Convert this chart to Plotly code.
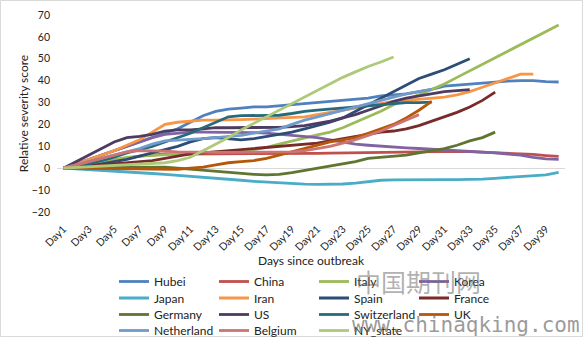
import plotly.graph_objects as go

days = ["Day%d" % i for i in range(1, 41)]
tick_days = ["Day%d" % i for i in range(1, 41, 2)]

series_names = ["Hubei", "China", "Italy", "Korea", "Japan", "Iran", "Spain", "France",
                "Germany", "US", "Switzerland", "UK", "Netherland", "Belgium", "NY_state"]

hubei = [0, 2, 4, 6, 8, 10, 12, 14, 16, 18, 21, 24, 26, 27, 27.5, 28, 28, 28.5, 29, 29.5,
         30, 30.5, 31, 31.5, 32, 33, 33.5, 34, 35, 36, 37.5, 38, 38.5, 39, 39.5, 39.8, 40, 40, 39.6, 39.4]
china = [0, 1, 2, 3, 3.5, 4.5, 5.5, 6, 6.5, 6.5, 6.5, 6.5, 6.5, 6.5, 6.5, 6.5, 6.5, 6.5, 6.6, 6.7,
         6.8, 6.9, 7, 7, 7.1, 7.2, 7.3, 7.4, 7.5, 7.6, 7.7, 7.7, 7.6, 7.4, 7.2, 7, 6.8, 6.3, 5.8, 5.4]
italy = [0, 1, 2, 3, 4, 5, 5.5, 5.8, 6, 6.2, 6.5, 7, 7.2, 7.5, 8, 8.5, 9.5, 11, 12.5, 14,
         15.2, 16.5, 18.5, 21, 23.5, 26, 29, 31.5, 33.5, 36, 38.5, 41.5, 44.5, 47.5, 50.5, 53.5, 56.5, 59.5, 62.5, 65.4]
korea = [0, 2, 4, 6, 8, 10, 12, 14, 15.5, 16, 16.5, 16.5, 16.5, 16.5, 16.5, 16.3, 16, 15.5, 15, 14.5,
         14, 13, 12, 11, 10.5, 10, 9.7, 9.3, 9, 8.7, 8.3, 8, 7.5, 7.2, 7, 6.5, 6, 5, 4.3, 4]
japan = [0, -0.3, -0.6, -0.9, -1.2, -1.6, -2, -2.4, -2.8, -3.2, -3.6, -4, -4.5, -5, -5.5, -6, -6.4, -6.8, -7.1, -7.3,
         -7.4, -7.4, -7.2, -6.8, -6, -5.5, -5.3, -5.2, -5.2, -5.2, -5.2, -5.2, -5.2, -5, -4.6, -4.2, -3.9, -3.7, -3, -1.9]
iran = [0, 2, 4, 6, 8, 10.5, 13, 16.5, 20, 21, 21.5, 22, 22, 22, 22.2, 22.4, 22.6, 22.8, 23, 23.5,
        24.5, 25.5, 26.5, 27.5, 28.5, 29.5, 30.5, 31, 31.5, 32, 32.5, 33.5, 35, 37, 39, 41, 43, 43]
spain = [0, 0.5, 1, 2, 3, 4, 5.5, 7, 8.5, 10, 12, 13.5, 14, 13.5, 13, 13.5, 14.5, 15.5, 16.5, 18,
         19.5, 21, 23, 26, 29, 32, 35, 38, 41, 43, 45, 47.5, 50]
france = [0, 0.5, 1, 1.5, 2, 2.5, 3, 3.5, 4.5, 5.5, 6.5, 7, 7.5, 8, 8.5, 9, 9.5, 10, 10.5, 11,
          11.5, 12.5, 13.5, 14.5, 15.5, 16.5, 17, 18, 19.5, 21.5, 23.5, 25.5, 28, 31, 34.8]
germany = [0, 0, 0, 0.2, 0.4, 0.5, 0.6, 0.6, 0.5, 0, -0.5, -1, -1.5, -2, -2.5, -2.8, -3, -2.8, -2, -1,
           0, 1, 2, 3, 4.5, 5, 5.5, 6, 7, 8, 9, 10.5, 12.5, 14, 16.5]
us = [0, 3, 6, 9, 12, 14, 14.5, 15.5, 17, 17.5, 17.5, 18, 18.5, 18.5, 18.5, 18.5, 18.7, 18.7, 19, 19.5,
      20.5, 21.5, 23, 24.5, 26.5, 28.5, 30.5, 32, 33, 34, 35, 35.5, 35.9]
switzerland = [0, 1, 2, 3.5, 5, 7, 8.5, 10, 12, 14, 16, 18.5, 21, 23.5, 24, 24, 24, 24.2, 25, 26,
               26.5, 27, 27.5, 28, 28.5, 29, 29.5, 30, 30, 30.2]
uk = [0, 0, 0, 0, 0, -0.2, -0.3, -0.4, -0.5, -0.5, 0, 0.5, 1.5, 2.5, 3, 3.5, 4.5, 6, 7.5, 9,
      10.5, 12, 13, 14, 16, 18, 20, 23, 26.5, 30.5]
netherland = [0, 1.5, 3, 4.5, 6, 7.5, 9, 11, 12.5, 12.8, 13, 13.5, 14, 14.5, 15, 16, 17, 18, 20, 22,
              23.5, 25, 26.5, 28, 29.5, 31, 32.5, 34, 35, 36]
belgium = [0, 1.5, 3, 4.5, 6, 7.5, 8, 8, 7.8, 7.5, 7.3, 7.2, 7.2, 7.2, 7.2, 7.2, 7.2, 7.3, 7.5, 8,
           9, 10, 11.5, 13, 15, 17, 19.5, 22, 24.5]
ny_state = [0, 0.3, 0.6, 0.9, 1.2, 1.5, 1.8, 2.1, 2.5, 3.5, 5, 8, 11, 14, 17.5, 20.5, 23.5, 26.5, 29.5, 32.5,
            35.5, 38.5, 41.5, 44, 46.5, 48.5, 50.8]

series_values = [hubei, china, italy, korea, japan, iran, spain, france,
                 germany, us, switzerland, uk, netherland, belgium, ny_state]

colors = ["#4F81BD", "#C0504D", "#9BBB59", "#8064A2", "#4BACC6", "#F79646", "#2C4D75", "#772C2A",
          "#5F7530", "#4D3B62", "#276A7C", "#B65708", "#729ACA", "#CD7371", "#AFC97A"]

W, H = 583, 337
L, R, T, B = 57, 18, 15, 125
plot_w = W - L - R
plot_h = H - T - B
FONT = "Lato"

fig = go.Figure()
legend_ids = ["legend", "legend2", "legend3", "legend4"]
for i, (name, vals) in enumerate(zip(series_names, series_values)):
    fig.add_trace(go.Scatter(
        x=days[:len(vals)], y=vals, name=name, mode="lines",
        line=dict(color=colors[i], width=2.8),
        legend=legend_ids[i // 4],
    ))

row_y_px = [281.5, 298, 314.5, 330.5]
legend_x_px = 114
layout_legends = {}
for k, lid in enumerate(legend_ids):
    layout_legends[lid] = dict(
        orientation="h", x=(legend_x_px - L) / plot_w, xanchor="left",
        y=(H - B - row_y_px[k]) / plot_h, yanchor="middle",
        entrywidth=55, entrywidthmode="pixels",
        font=dict(family=FONT, size=12, color="#222"),
        bgcolor="rgba(0,0,0,0)", itemwidth=30, tracegroupgap=0,
    )

fig.update_layout(
    width=W, height=H,
    margin=dict(l=L, r=R, t=T, b=B, autoexpand=False),
    paper_bgcolor="white", plot_bgcolor="white",
    font=dict(family=FONT, color="#222"),
    showlegend=True,
    xaxis=dict(
        type="category", categoryorder="array", categoryarray=days,
        range=[-0.5, 39.5], tickmode="array", tickvals=tick_days, ticktext=tick_days,
        tickangle=-45, tickfont=dict(family=FONT, size=10.5, color="#222"),
        showgrid=False, zeroline=False, showline=False, ticks="",
        ticklabelstandoff=8,
        title=dict(text="Days since outbreak", font=dict(family=FONT, size=12, color="#222"), standoff=4),
    ),
    yaxis=dict(
        range=[-20, 70], tickmode="array", tickvals=list(range(-20, 71, 10)),
        tickfont=dict(family=FONT, size=10.5, color="#222"),
        showgrid=False, zeroline=True, zerolinecolor="#D9D9D9", zerolinewidth=1,
        showline=False, ticks="", ticklabelstandoff=6,
        title=dict(text="Relative severity score", font=dict(family=FONT, size=12, color="#222"), standoff=0),
    ),
    **layout_legends,
)

# chart border
fig.add_shape(type="rect", xref="paper", yref="paper",
              x0=(0.5 - L) / plot_w, x1=(W - 0.5 - L) / plot_w,
              y0=(-(B) + 0.5) / plot_h, y1=(plot_h + T - 0.5) / plot_h,
              line=dict(color="#D9D9D9", width=1), layer="below")

# watermark text
fig.add_annotation(text="中国期刊网", xref="paper", yref="paper",
                   x=(418 - L) / plot_w, xanchor="center",
                   y=(H - B - 281) / plot_h, yanchor="middle", showarrow=False,
                   font=dict(family="Noto Sans CJK SC", size=25, color="rgba(110,110,110,0.55)"))
fig.add_annotation(text="www.chinaqking.com", xref="paper", yref="paper",
                   x=(350 - L) / plot_w, xanchor="left",
                   y=(H - B - 325) / plot_h, yanchor="middle", showarrow=False,
                   font=dict(family="DejaVu Sans Mono", size=21, color="rgba(110,110,110,0.7)"))

fig.write_html("out.html")
